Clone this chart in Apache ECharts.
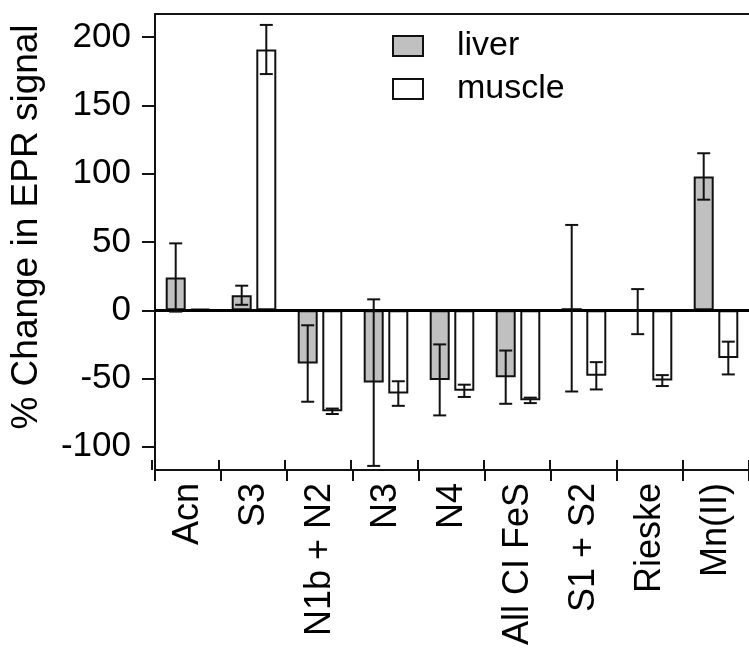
<!DOCTYPE html>
<html>
<head>
<meta charset="utf-8">
<script src="https://cdn.jsdelivr.net/npm/echarts@6/dist/echarts.min.js"></script>
<style>
html,body{margin:0;padding:0;background:#fff;}
#chart{width:749px;height:653px;}
</style>
</head>
<body>
<div id="chart"></div>
<script>
const categories = ['Acn', 'S3', 'N1b + N2', 'N3', 'N4', 'All CI FeS', 'S1 + S2', 'Rieske', 'Mn(II)'];
const liverValues = [24, 11, -39, -53, -51, -49, 1.5, -1, 98];
const liverErrors = [25, 7, 28, 61, 26, 19.5, 61, 16.5, 17];
const muscleValues = [1, 191, -74, -61, -59, -66, -48, -51.5, -35];
const muscleErrors = [0, 18, 2, 9, 4.5, 2, 10, 4, 12];
const yTickValues = [-100, -50, 0, 50, 100, 150, 200];
const seriesNames = ['liver', 'muscle'];

const FONT = 'Liberation Sans, Arial, Helvetica, sans-serif';
const BAR_W = 20;
const BAR_GAP = 0.23;
const OFFSET = BAR_W * (1 + BAR_GAP) / 2;
const gridBox = { left: 152, top: 14, right: -6, bottom: 183 };

function errData(values, errors) {
  return values.map((v, i) => [i, v, errors[i]]);
}
function errRender(sign) {
  return function (params, api) {
    const i = api.value(0), v = api.value(1), e = api.value(2);
    if (!e) return null;
    const hi = api.coord([i, v + e]);
    const lo = api.coord([i, v - e]);
    const x = hi[0] + sign * OFFSET;
    const cap = 6.5;
    const st = { stroke: '#111', lineWidth: 2 };
    return {
      type: 'group',
      children: [
        { type: 'line', shape: { x1: x, y1: hi[1], x2: x, y2: lo[1] }, style: st },
        { type: 'line', shape: { x1: x - cap, y1: hi[1], x2: x + cap, y2: hi[1] }, style: st },
        { type: 'line', shape: { x1: x - cap, y1: lo[1], x2: x + cap, y2: lo[1] }, style: st }
      ]
    };
  };
}

const chart = echarts.init(document.getElementById('chart'), null, { renderer: 'canvas' });
chart.setOption({
  animation: false,
  backgroundColor: '#fff',
  textStyle: { fontFamily: FONT, color: '#000' },
  grid: [
    Object.assign({ containLabel: false }, gridBox),
    Object.assign({ containLabel: false }, gridBox)
  ],
  legend: {
    data: seriesNames,
    orient: 'vertical',
    left: 392,
    top: 29,
    padding: 0,
    itemWidth: 30,
    itemHeight: 20,
    itemGap: 9,
    selectedMode: false,
    icon: 'rect',
    textStyle: { fontSize: 34, color: '#000', fontFamily: FONT, padding: [0, 0, 0, 29] }
  },
  xAxis: [
    {
      type: 'category', data: categories, gridIndex: 0, position: 'bottom',
      axisLine: { onZero: false, lineStyle: { color: '#111', width: 2 } },
      axisTick: { show: true, length: 11, interval: 0, lineStyle: { color: '#111', width: 2 } },
      axisLabel: { interval: 0, rotate: 90, fontSize: 36, color: '#000', margin: 13, fontFamily: FONT },
      splitLine: { show: false }
    },
    {
      type: 'category', data: categories, gridIndex: 0, position: 'top',
      axisLine: { onZero: false, lineStyle: { color: '#111', width: 2 } },
      axisTick: { show: false }, axisLabel: { show: false }, splitLine: { show: false }
    },
    {
      type: 'category', data: categories, gridIndex: 1, position: 'bottom',
      axisLine: { show: false, onZero: false },
      axisTick: { show: true, inside: true, length: 10, interval: 0, lineStyle: { color: '#111', width: 2 } },
      axisLabel: { show: false }, splitLine: { show: false }
    }
  ],
  yAxis: [
    {
      type: 'value', gridIndex: 0, min: -117, max: 217,
      name: '% Change in EPR signal', nameLocation: 'middle', nameGap: 110, nameRotate: 90,
      nameTextStyle: { fontSize: 37, color: '#000', fontFamily: FONT, padding: [0, 0, 0, 30] },
      axisLine: { show: true, onZero: false, lineStyle: { color: '#111', width: 2 } },
      axisTick: { show: true, length: 13, customValues: yTickValues, lineStyle: { color: '#111', width: 2 } },
      axisLabel: { customValues: yTickValues, fontSize: 35, color: '#000', margin: 24, fontFamily: FONT },
      splitLine: { show: false }
    },
    {
      type: 'value', gridIndex: 1, min: -117, max: 217, show: false
    }
  ],
  series: [
    {
      name: 'liver', type: 'bar', xAxisIndex: 0, yAxisIndex: 0,
      data: liverValues, barWidth: BAR_W, barGap: (BAR_GAP * 100) + '%',
      itemStyle: { color: '#c0c0c0', borderColor: '#111', borderWidth: 2 }
    },
    {
      name: 'muscle', type: 'bar', xAxisIndex: 0, yAxisIndex: 0,
      data: muscleValues, barWidth: BAR_W, barGap: (BAR_GAP * 100) + '%',
      itemStyle: { color: '#ffffff', borderColor: '#111', borderWidth: 2 }
    },
    {
      name: 'liver err', type: 'custom', xAxisIndex: 0, yAxisIndex: 0, z: 5,
      data: errData(liverValues, liverErrors), renderItem: errRender(-1),
      encode: { x: 0, y: [1] }, silent: true
    },
    {
      name: 'muscle err', type: 'custom', xAxisIndex: 0, yAxisIndex: 0, z: 5,
      data: errData(muscleValues, muscleErrors), renderItem: errRender(1),
      encode: { x: 0, y: [1] }, silent: true,
      markLine: {
        silent: true, symbol: ['none', 'none'], label: { show: false },
        lineStyle: { color: '#000', width: 3, type: 'solid' },
        data: [{ yAxis: 0 }]
      }
    }
  ]
});
</script>
</body>
</html>
